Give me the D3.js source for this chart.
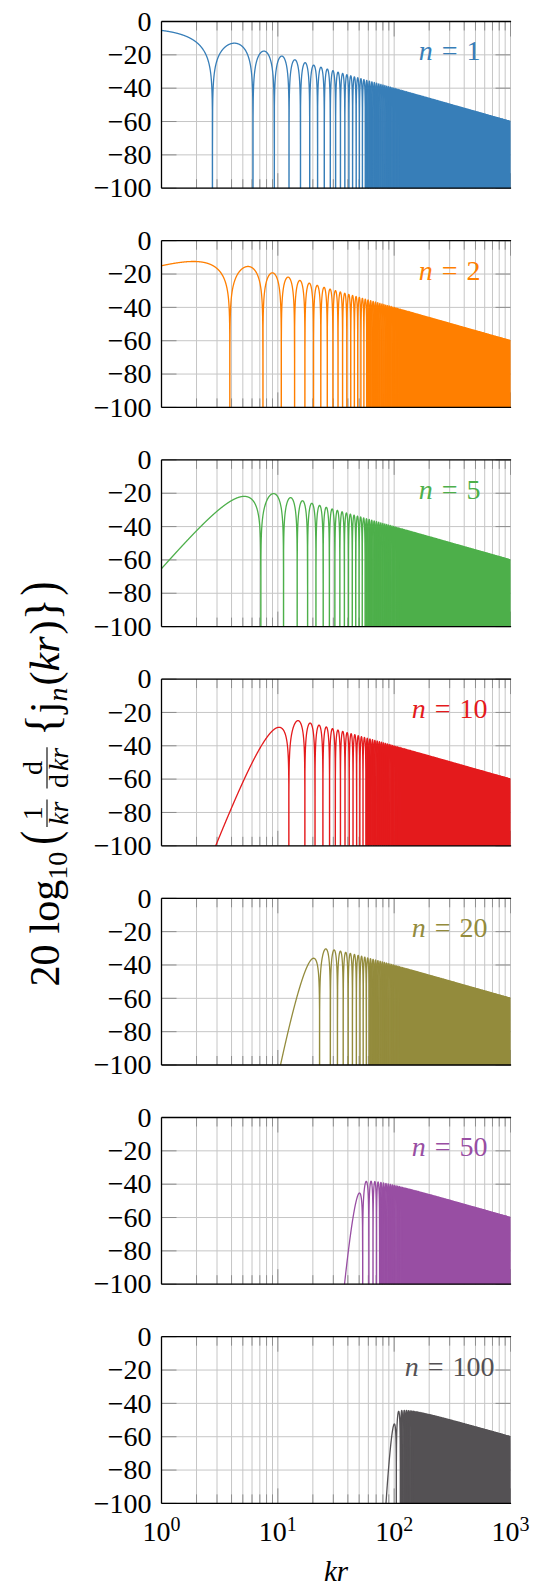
<!DOCTYPE html>
<html>
<head>
<meta charset="utf-8">
<script src="https://cdn.jsdelivr.net/npm/d3@7"></script>
<style>
  body { margin: 0; background: #fff; }
  svg { display: block; font-family: "Liberation Serif", "Times New Roman", serif; }
</style>
</head>
<body>
<div id="graf"></div>
<script>
// orden de la función esférica de Bessel en cada panel
const ordenes = [1, 2, 5, 10, 20, 50, 100]
const colores = ["#377eb8", "#ff7f00", "#4daf4a", "#e41a1c", "#938b3c", "#984ea3", "#545154"]
const yTicks = [0, -20, -40, -60, -80, -100]
const xTicks = [1, 10, 100, 1000]
const xTickExp = ["0", "1", "2", "3"]
const etiquetaPos = [300, -20] // (kr, dB) del rótulo n = ...

const anchoTotal = 541
const altoTotal = 1587
const izq = 161.5
const der = 510.5
const panelTop = 21.5
const panelPaso = 219.2
const alto = 166.7

const svg = d3.select("#graf")
  .append("svg")
  .attr("width", anchoTotal)
  .attr("height", altoTotal)

const x = d3.scaleLog().domain([1, 1000]).range([izq, der])
const y = d3.scaleLinear().domain([-100, 0]).range([alto, 0])

// j_{n-1}(x), j_n(x)
function besselPar(n, xv) {
  const s = Math.sin(xv), c = Math.cos(xv)
  const j0 = s / xv
  const j1 = s / (xv * xv) - c / xv
  if (xv >= n) {
    let a = j0, b = j1
    for (let k = 1; k < n; k++) {
      const t = (2 * k + 1) / xv * b - a
      a = b
      b = t
    }
    return [a, b]
  }
  // recurrencia descendente (Miller)
  const N = n + 30 + Math.ceil(Math.sqrt(40 * n))
  let jp = 0, jc = 1e-30, jn = 0, jnm1 = 0
  for (let k = N; k >= 1; k--) {
    const jm = (2 * k + 1) / xv * jc - jp
    jp = jc
    jc = jm
    if (k - 1 === n) jn = jc
    if (k - 1 === n - 1) jnm1 = jc
    if (Math.abs(jc) > 1e100) {
      jc *= 1e-100; jp *= 1e-100; jn *= 1e-100; jnm1 *= 1e-100
    }
  }
  const esc = Math.abs(s) > 0.5 ? j0 / jc : j1 / jp
  return [jnm1 * esc, jn * esc]
}

// (1/kr) d/dkr {kr j_n(kr)}
function valor(n, xv) {
  const [a, b] = besselPar(n, xv)
  return a - n * b / xv
}

const muestras = []
let xs = 1
while (xs < 1000) {
  muestras.push(xs)
  xs += Math.min(xs * 0.003, 0.2)
}
muestras.push(1000)

function serie(n) {
  const pts = []
  const ceros = []
  let prev = null
  muestras.forEach((xv) => {
    const f = valor(n, xv)
    if (prev && prev.f * f < 0) {
      const xz = prev.x + (xv - prev.x) * prev.f / (prev.f - f)
      pts.push({ x: xz, db: -300 })
      ceros.push(xz)
    }
    const db = 20 * Math.log10(Math.abs(f))
    pts.push({ x: xv, db: Math.max(db, -300) })
    prev = { x: xv, f: f }
  })
  // desde donde los ceros quedan a menos de ~2.8 px: zona rellena
  let desde = 1000
  for (let k = 1; k < ceros.length; k++) {
    if (x(ceros[k]) - x(ceros[k - 1]) < 2.8) { desde = ceros[k - 1]; break }
  }
  return { pts, desde }
}

const linea = d3.line().x((d) => x(d.x)).y((d) => y(d.db))
const area = d3.area().x((d) => x(d.x)).y0(alto).y1((d) => y(d.db))

const menores = []
for (let e = 0; e < 3; e++) for (let m = 2; m <= 9; m++) menores.push(m * Math.pow(10, e))

ordenes.forEach((n, i) => {
  const g = svg.append("g")
    .attr("transform", `translate(0, ${panelTop + i * panelPaso})`)

  g.append("clipPath").attr("id", "clip" + i)
    .append("rect")
    .attr("x", izq).attr("y", 0)
    .attr("width", der - izq).attr("height", alto)

  // rejilla
  g.selectAll(".gv")
    .data(menores.concat(xTicks))
    .enter().append("line")
    .attr("x1", (d) => x(d)).attr("x2", (d) => x(d))
    .attr("y1", 0).attr("y2", alto)
    .attr("stroke", "#c6c6c6").attr("stroke-width", 1)
  g.selectAll(".gh")
    .data(yTicks)
    .enter().append("line")
    .attr("x1", izq).attr("x2", der)
    .attr("y1", (d) => y(d)).attr("y2", (d) => y(d))
    .attr("stroke", "#c6c6c6").attr("stroke-width", 1)

  // marcas interiores
  const marcas = g.append("g").attr("stroke", "#8e8e8e").attr("stroke-width", 1)
  ;[0, alto].forEach((yy) => {
    const dir = yy === 0 ? 1 : -1
    marcas.selectAll(null).data(menores).enter().append("line")
      .attr("x1", (d) => x(d)).attr("x2", (d) => x(d))
      .attr("y1", yy).attr("y2", yy + dir * 9)
    marcas.selectAll(null).data(xTicks).enter().append("line")
      .attr("x1", (d) => x(d)).attr("x2", (d) => x(d))
      .attr("y1", yy).attr("y2", yy + dir * 15)
  })
  ;[izq, der].forEach((xx) => {
    const dir = xx === izq ? 1 : -1
    marcas.selectAll(null).data(yTicks).enter().append("line")
      .attr("x1", xx).attr("x2", xx + dir * 15)
      .attr("y1", (d) => y(d)).attr("y2", (d) => y(d))
  })

  // curva
  const s = serie(n)
  const curva = g.append("g").attr("clip-path", `url(#clip${i})`)
  curva.append("path")
    .datum(s.pts.filter((d) => d.x >= s.desde))
    .attr("fill", colores[i])
    .attr("stroke", "none")
    .attr("d", area)
  curva.append("path")
    .datum(s.pts)
    .attr("fill", "none")
    .attr("stroke", colores[i])
    .attr("stroke-width", 1.3)
    .attr("stroke-linejoin", "round")
    .attr("d", linea)

  // bordes
  const borde = g.append("g").attr("stroke", "#000").attr("stroke-width", 1.3).attr("fill", "none")
  borde.append("line").attr("x1", izq).attr("x2", der + 0.6).attr("y1", 0).attr("y2", 0)
  borde.append("line").attr("x1", izq).attr("x2", der + 0.6).attr("y1", alto).attr("y2", alto)
  borde.append("line").attr("x1", izq).attr("x2", izq).attr("y1", 0).attr("y2", alto)

  // etiquetas del eje y
  g.selectAll(".yl")
    .data(yTicks)
    .enter().append("text")
    .attr("x", izq - 10)
    .attr("y", (d) => y(d))
    .attr("dy", "0.33em")
    .attr("text-anchor", "end")
    .attr("font-size", 28)
    .text((d) => (d < 0 ? "\u2212" + Math.abs(d) : d))

  // rótulo n = ...
  const rot = g.append("text")
    .attr("x", x(etiquetaPos[0]))
    .attr("y", y(etiquetaPos[1]))
    .attr("dy", "0.2em")
    .attr("text-anchor", "middle")
    .attr("font-size", 28)
    .attr("fill", colores[i])
  rot.append("tspan").attr("font-style", "italic").text("n")
  rot.append("tspan").attr("dx", 9).text("=")
  rot.append("tspan").attr("dx", 9).text(n)

  if (i === ordenes.length - 1) {
    const ejeX = g.append("g")
    xTicks.forEach((t, k) => {
      const tx = ejeX.append("text")
        .attr("x", x(t))
        .attr("y", alto + 37.5)
        .attr("text-anchor", "middle")
        .attr("font-size", 28)
      tx.append("tspan").text("10")
      tx.append("tspan").attr("font-size", 20).attr("dy", -10).text(xTickExp[k])
    })
    g.append("text")
      .attr("x", (izq + der) / 2)
      .attr("y", alto + 78)
      .attr("text-anchor", "middle")
      .attr("font-size", 29)
      .attr("font-style", "italic")
      .text("kr")
  }
})

// título del eje y
const titulo = svg.append("g").attr("transform", "translate(45, 784) rotate(-90)")
const cuerpo = titulo.append("g")
let cx = 0
const F = 42, S = 28, base = 14, eje = 2

function pieza(txt, size, by, italic, gap) {
  const t = cuerpo.append("text").attr("x", cx).attr("y", by).attr("font-size", size).text(txt)
  if (italic) t.attr("font-style", "italic")
  cx += t.node().getComputedTextLength() + (gap || 0)
  return t
}

function grande(txt, gap) {
  const t = cuerpo.append("text")
    .attr("transform", `translate(${cx}, 12) scale(0.8, 1)`)
    .attr("font-size", 52)
    .text(txt)
  cx += t.node().getComputedTextLength() * 0.8 + gap
}

function fraccion(num, den, gap) {
  const tn = cuerpo.append("text").attr("font-size", S).attr("y", eje - 5).attr("text-anchor", "middle")
  num.forEach((p) => tn.append("tspan").attr("font-style", p[1] ? "italic" : null).attr("dx", p[2] || 0).text(p[0]))
  const td = cuerpo.append("text").attr("font-size", S).attr("y", eje + 21).attr("text-anchor", "middle")
  den.forEach((p) => td.append("tspan").attr("font-style", p[1] ? "italic" : null).attr("dx", p[2] || 0).text(p[0]))
  const w = Math.max(tn.node().getComputedTextLength(), td.node().getComputedTextLength()) + 4
  tn.attr("x", cx + w / 2)
  td.attr("x", cx + w / 2)
  cuerpo.append("line").attr("x1", cx).attr("x2", cx + w).attr("y1", eje).attr("y2", eje)
    .attr("stroke", "#000").attr("stroke-width", 1.1)
  cx += w + gap
}

pieza("20", F, base, false, 11)
pieza("log", F, base, false, 0)
pieza("10", S, base + 8, false, 7)
grande("(", 4)
fraccion([["1", false]], [["kr", true]], 11)
fraccion([["d", false]], [["d", false], ["kr", true, 3]], 11)
pieza("{", 46, 13, false, 1)
pieza("j", F, base, false, 0)
pieza("n", S, base + 8, true, 2)
pieza("(", F, base, false, 0)
pieza("kr", F, base, true, 2)
pieza(")", F, base, false, 0)
pieza("}", 46, 13, false, 3)
grande(")", 0)
cuerpo.attr("transform", `translate(${-cx / 2}, 0)`)
</script>
</body>
</html>
